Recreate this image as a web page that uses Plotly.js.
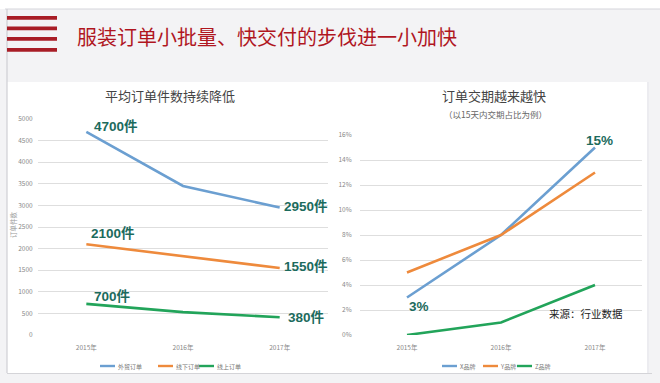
<!DOCTYPE html>
<html><head><meta charset="utf-8">
<script src="https://cdn.plot.ly/plotly-3.0.1.min.js"></script>
<style>html,body{margin:0;padding:0;background:#fff;}#chart{width:660px;height:383px;}</style>
</head><body><div id="chart"></div>
<script>
// ---- data ----
const years = ['2015年', '2016年', '2017年'];
const seriesLeftNames = ['外贸订单', '线下订单', '线上订单'];
const waimao = [4700, 3450, 2950];
const xianxia = [2100, 1830, 1550];
const xianshang = [720, 530, 410];
const leftLabels = [['4700件', '2950件'], ['2100件', '1550件'], ['700件', '380件']];
const leftTicks = [0, 500, 1000, 1500, 2000, 2500, 3000, 3500, 4000, 4500, 5000];

const seriesRightNames = ['X品牌', 'Y品牌', 'Z品牌'];
const brandX = [3, 8, 15];
const brandY = [5, 8, 13];
const brandZ = [0, 1, 4];
const rightLabels = ['3%', '15%'];
const rightTicks = [0, 2, 4, 6, 8, 10, 12, 14, 16];
const rightTickText = ['0%', '2%', '4%', '6%', '8%', '10%', '12%', '14%', '16%'];

const colors = ['#6b9fd1', '#ee8a3c', '#22a45a'];
const W = 660, H = 383;
const px = x => x / W, py = y => 1 - y / H;
const CJK = '"Noto Sans CJK SC", "Liberation Sans", sans-serif';
const BOLD = '"Liberation Sans", "Noto Sans CJK SC", sans-serif';
const labelColor = '#1c6b5d';

function line(y, i, xa, ya) {
  return {x: years, y: y, name: (xa === 'x' ? seriesLeftNames : seriesRightNames)[i],
    type: 'scatter', mode: 'lines', xaxis: xa, yaxis: ya, showlegend: false,
    line: {color: colors[i], width: 2.6}, hoverinfo: 'skip'};
}
const data = [
  line(waimao, 0, 'x', 'y'), line(xianxia, 1, 'x', 'y'), line(xianshang, 2, 'x', 'y'),
  line(brandX, 0, 'x2', 'y2'), line(brandY, 1, 'x2', 'y2'), line(brandZ, 2, 'x2', 'y2')
];

const tickFont = {family: CJK, size: 6.5, color: '#888'};
const axX = d => ({domain: d, type: 'category', range: [-0.5, 2.5], showgrid: false, zeroline: false, showline: false,
  ticks: 'outside', ticklen: 6, tickcolor: 'rgba(0,0,0,0)', tickfont: tickFont, fixedrange: true});
const axY = (d, r, tv, tt, tl) => ({domain: d, range: r, tickmode: 'array', tickvals: tv, ticktext: tt, showgrid: true, gridcolor: '#dedede', gridwidth: 1,
  zeroline: false, showline: false, ticks: 'outside', ticklen: tl, tickcolor: 'rgba(0,0,0,0)', tickfont: tickFont, fixedrange: true});

function lab(text, xref, yref, x, y, xs, ys, anchor) {
  return {text: '<b>' + text + '</b>', xref: xref, yref: yref, x: x, y: y, xanchor: anchor || 'left', yanchor: 'middle',
    xshift: xs, yshift: ys, showarrow: false,
    font: {family: BOLD, size: 13.5, color: labelColor, shadow: '1px 1px 2px #ffffff'}};
}
const stripeYs = [16, 26.5, 37, 48];
const shapes = [
  {type: 'rect', xref: 'paper', yref: 'paper', x0: 0, x1: 1, y0: py(9), y1: 1, fillcolor: '#ffffff', line: {width: 0}, layer: 'below'},
  {type: 'line', xref: 'paper', yref: 'paper', x0: px(5), x1: 1, y0: py(9), y1: py(9), line: {color: '#d6d6dc', width: 1.2}, layer: 'below'},
  {type: 'rect', xref: 'paper', yref: 'paper', x0: px(7), x1: px(648), y0: py(373), y1: py(82), fillcolor: '#ffffff', line: {width: 0}, layer: 'below'},
  {type: 'line', xref: 'paper', yref: 'paper', x0: px(7), x1: px(7), y0: py(373), y1: py(9), line: {color: '#cfcfd4', width: 1.2}, layer: 'below'},
  {type: 'line', xref: 'paper', yref: 'paper', x0: px(7), x1: px(652), y0: py(373.5), y1: py(373.5), line: {color: '#d4d4d8', width: 1.2}, layer: 'below'},
  {type: 'line', xref: 'paper', yref: 'paper', x0: px(648), x1: px(648), y0: py(373), y1: py(82), line: {color: '#ececf0', width: 2}, layer: 'below'}
].concat(stripeYs.map(y => ({type: 'rect', xref: 'paper', yref: 'paper', x0: px(7), x1: px(57), y0: py(y + 3.8), y1: py(y),
  fillcolor: '#a81d26', line: {width: 0}})));

// manual legends (sample line + name)
const legendY = 366;
const legendLeftX = [100, 158, 199];
const legendRightX = [442, 483, 517];
const annotations = [];
function addLegend(xs, names) {
  xs.forEach((x, i) => {
    shapes.push({type: 'line', xref: 'paper', yref: 'paper', x0: px(x), x1: px(x + 15), y0: py(legendY), y1: py(legendY),
      line: {color: colors[i], width: 2.4}});
    annotations.push({text: names[i], xref: 'paper', yref: 'paper', x: px(x + 15.5), y: py(legendY), xanchor: 'left', yanchor: 'middle',
      showarrow: false, font: {family: CJK, size: 6, color: '#777'}});
  });
}
addLegend(legendLeftX, seriesLeftNames);
addLegend(legendRightX, seriesRightNames);

annotations.push(
  {text: '服装订单小批量、快交付的步伐进一小加快', xref: 'paper', yref: 'paper', x: px(75), y: py(36), xanchor: 'left', yanchor: 'middle',
    showarrow: false, font: {family: CJK, size: 20, color: '#b0161f'}},
  {text: '平均订单件数持续降低', xref: 'paper', yref: 'paper', x: px(170), y: py(96), xanchor: 'center', yanchor: 'middle',
    showarrow: false, font: {family: CJK, size: 13, color: '#444'}},
  {text: '订单交期越来越快', xref: 'paper', yref: 'paper', x: px(494), y: py(95), xanchor: 'center', yanchor: 'middle',
    showarrow: false, font: {family: CJK, size: 13, color: '#444'}},
  {text: '（以15天内交期占比为例）', xref: 'paper', yref: 'paper', x: px(495), y: py(114), xanchor: 'center', yanchor: 'middle',
    showarrow: false, font: {family: CJK, size: 8.5, color: '#666'}},
  {text: '订单件数', xref: 'paper', yref: 'paper', x: px(13), y: py(224), xanchor: 'center', yanchor: 'middle', textangle: -90,
    showarrow: false, font: {family: CJK, size: 6.5, color: '#999'}},
  {text: '来源：行业数据', xref: 'paper', yref: 'paper', x: px(547), y: py(313), xanchor: 'left', yanchor: 'middle',
    showarrow: false, font: {family: CJK, size: 10.5, color: '#222'}},
  lab(leftLabels[0][0], 'x', 'y', 0, waimao[0], 6, 5),
  lab(leftLabels[0][1], 'x', 'y', 2, waimao[2], 2, 1),
  lab(leftLabels[1][0], 'x', 'y', 0, xianxia[0], 3, 11),
  lab(leftLabels[1][1], 'x', 'y', 2, xianxia[2], 2, 2),
  lab(leftLabels[2][0], 'x', 'y', 0, xianshang[0], 6, 7),
  lab(leftLabels[2][1], 'x', 'y', 2, xianshang[2], 6, 0),
  lab(rightLabels[0], 'x2', 'y2', 0, brandX[0], 0, -9),
  lab(rightLabels[1], 'x2', 'y2', 2, brandX[2], 4, 7, 'center')
);

const layout = {
  width: W, height: H, margin: {l: 0, r: 0, t: 0, b: 0},
  paper_bgcolor: '#f3f3f5', plot_bgcolor: 'rgba(0,0,0,0)', showlegend: false,
  xaxis: axX([px(38), px(328)]),
  yaxis: axY([py(335), py(119)], [0, 5000], leftTicks, leftTicks.map(String), 3),
  xaxis2: Object.assign(axX([px(360), px(642)]), {anchor: 'y2'}),
  yaxis2: Object.assign(axY([py(335), py(135)], [0, 16], rightTicks, rightTickText, 6), {anchor: 'x2'}),
  shapes: shapes, annotations: annotations
};
Plotly.newPlot('chart', data, layout, {displayModeBar: false, staticPlot: true});
</script></body></html>
